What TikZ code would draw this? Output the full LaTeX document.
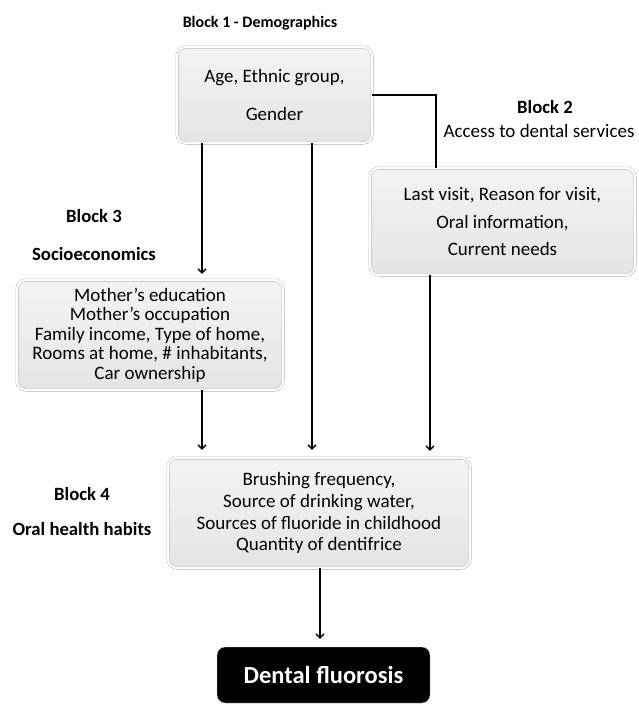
\documentclass[tikz,border=0pt]{standalone}
\usepackage{fontspec}
\setmainfont{Carlito}
\usetikzlibrary{arrows.meta}
\usetikzlibrary{shadows}

\tikzset{
	% grey rounded boxes with a white rim
	blockbox/.style={rounded corners=9pt, draw=gray!60, double=white, double distance=2.2pt,
		top color=gray!9, bottom color=gray!21, align=center, inner sep=0pt,
		drop shadow={opacity=0.3, shadow xshift=1pt, shadow yshift=-1.5pt},
		font=\fontsize{19}{19.5}\selectfont},
	% black outcome box
	outbox/.style={rounded corners=8pt, fill=black, draw=gray!40, text=white, inner sep=0pt,
		font=\fontsize{24.5}{27}\selectfont\bfseries},
	blocklabel/.style={anchor=base, font=\fontsize{18.7}{22}\selectfont\bfseries},
	plainlabel/.style={anchor=base, font=\fontsize{19}{22}\selectfont},
	flow/.style={line width=1.3pt, -{Straight Barb[length=4pt,width=8pt]}},
	link/.style={line width=1.3pt}
}

\begin{document}
\begin{tikzpicture}[x=1pt, y=-1pt]
	\useasboundingbox (0,0) rectangle (639,705);

	% block 1 - demographics
	\node[blockbox, minimum width=195pt, minimum height=96pt] (demo) at (274.5,95)
		{Age, Ethnic group,\\[18.5pt] Gender};
	\node[blocklabel, font=\fontsize{16}{19}\selectfont\bfseries] (demolab) at (260,27) {Block 1 - Demographics};

	% block 2 - access to dental services
	\node[blockbox, minimum width=265pt, minimum height=107pt] (access) at (502.5,221.5)
		{Last visit, Reason for visit,\\[9pt] Oral information,\\[7.5pt] Current needs};
	\node[blocklabel] (accesslab) at (545,113) {Block 2};
	\node[plainlabel] (accesssub) at (539,137) {Access to dental services};

	% block 3 - socioeconomics
	\node[blockbox, minimum width=266pt, minimum height=110pt] (socio) at (150,335)
		{Mother's education\\ Mother's occupation\\ Family income, Type of home,\\
		 Rooms at home, \# inhabitants,\\ Car ownership};
	\node[blocklabel] (sociolab) at (94,222) {Block 3};
	\node[blocklabel] (sociosub) at (94,260) {Socioeconomics};

	% block 4 - oral health habits
	\node[blockbox, minimum width=302pt, minimum height=110pt] (habits) at (319,513)
		{Brushing frequency,\\[2.5pt] Source of drinking water,\\[2.5pt]
		 Sources of fluoride in childhood\\[1pt] Quantity of dentifrice};
	\node[blocklabel] (habitslab) at (82,500) {Block 4};
	\node[blocklabel] (habitssub) at (82,535) {Oral health habits};

	% outcome
	\node[outbox, minimum width=213pt, minimum height=56pt] (fluor) at (323.5,675) {Dental fluorosis};

	% columns of the arrows
	\coordinate (xl) at (202,0);
	\coordinate (xm) at (312,0);
	\coordinate (xr) at (430,0);
	\coordinate (xt) at (436,0);
	\coordinate (xo) at (320,0);

	\draw[link] (demo.east) -- (demo.east -| xt) -- (access.north -| xt);
	\draw[flow, shorten >=6pt] (demo.south -| xl) -- (socio.north -| xl);
	\draw[flow, shorten >=8pt] (demo.south -| xm) -- (habits.north -| xm);
	\draw[flow, shorten >=8pt] (socio.south -| xl) -- (habits.north -| xl);
	\draw[flow, shorten >=7pt] (access.south -| xr) -- (habits.north -| xr);
	\draw[flow, shorten >=8pt] (habits.south -| xo) -- (fluor.north -| xo);
\end{tikzpicture}
\end{document}
